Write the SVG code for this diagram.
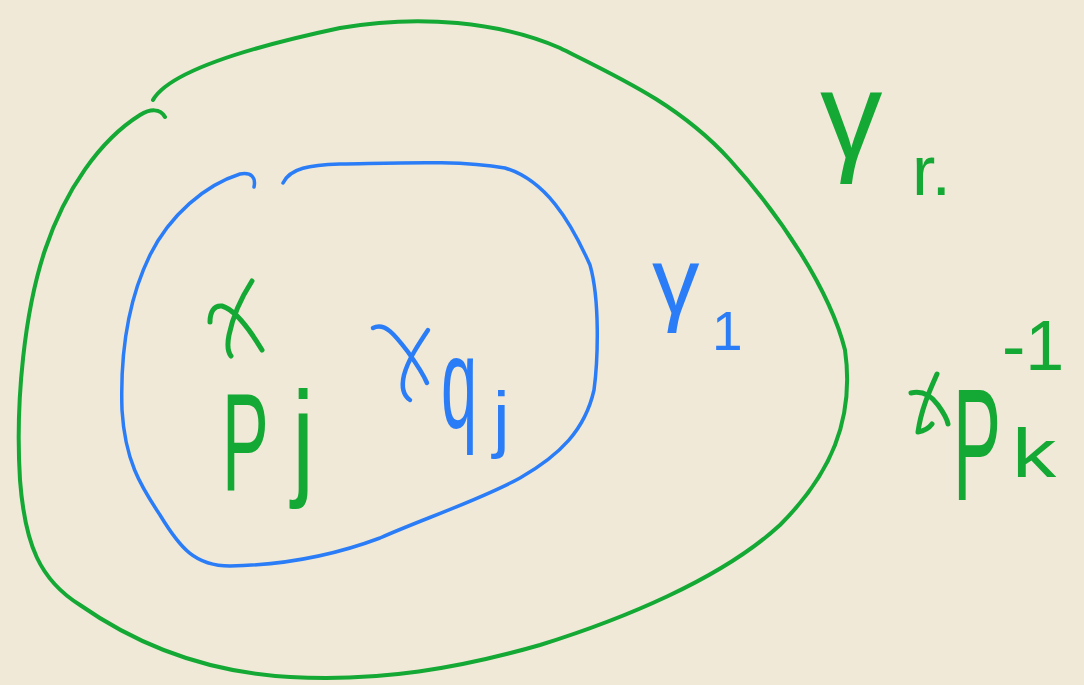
<svg xmlns="http://www.w3.org/2000/svg" width="1084" height="685" viewBox="0 0 1084 685">
<style>
.g{fill:none;stroke:#14a834;stroke-linecap:round;stroke-linejoin:round}
.b{fill:none;stroke:#2a7df7;stroke-linecap:round;stroke-linejoin:round}
.tg{fill:#14a834;font-family:"Liberation Sans",sans-serif}
.tb{fill:#2a7df7;font-family:"Liberation Sans",sans-serif}
</style>
<rect width="1084" height="685" fill="#f0e9d7"/>
<g id="connectors">
<path id="gamma-r" class="g" stroke-width="4" d="M153,100 C170,70 260,45 340,28 C420,14 500,22 560,48 C620,78 680,105 730,160 C780,215 830,290 845,350 C855,420 830,475 780,525 C720,580 620,620 540,645 C460,668 380,682 290,677 C200,672 130,640 80,605 C40,580 25,545 20,480 C15,400 25,310 45,250 C65,190 100,140 140,115 C150,109 160,108 165,117"/>
<path id="gamma-1" class="b" stroke-width="3.5" d="M283,183 C290,168 310,165 340,164 C400,163 460,160 505,168 C545,180 570,220 590,265 C600,300 598,360 594,390 C585,430 560,455 520,478 C480,500 420,520 380,538 C340,553 290,565 230,566 C195,566 180,548 160,515 C140,485 125,460 122,410 C120,350 128,300 150,255 C170,215 205,185 240,174 C252,172 256,178 254,187"/>
</g>
<g id="pt-pj">
<path class="g" stroke-width="5" d="M210,322 C210,312 214,305 222,306 C236,310 250,330 262,350 M252,281 C243,295 233,315 229,335 C227,345 228,352 231,356"/>
<text class="tg" transform="translate(222,490) scale(0.5,1)" font-size="140">P</text>
<text class="tg" transform="translate(292,482) scale(1,1.3)" font-size="100">j</text>
</g>
<g id="pt-qj">
<path class="b" stroke-width="4.5" d="M373,328 C385,322 395,335 408,352 C418,366 424,376 427,383 M428,330 C418,345 408,360 404,375 C401,388 404,396 410,400"/>
<text class="tb" transform="translate(441,428) scale(0.5,1)" font-size="130">q</text>
<text class="tb" x="493" y="444" font-size="75">j</text>
</g>
<g id="pt-pk">
<path class="g" stroke-width="5" d="M911,393 C920,391 930,394 938,405 C943,412 947,418 948,424 M937,374 C929,392 921,410 918,432 C924,431 929,428 932,424"/>
<text class="tg" transform="translate(953,500) scale(0.45,1)" font-size="160">P</text>
<text class="tg" transform="translate(1012,477) scale(1.3,1)" font-size="68">k</text>
<text class="tg" x="1002" y="370" font-size="70">-1</text>
</g>
<g id="label-gr">
<text class="tg" x="820" y="158" font-size="125">γ</text>
<text class="tg" x="912" y="195" font-size="70">r.</text>
</g>
<g id="label-g1">
<text class="tb" x="652" y="313" font-size="95">γ</text>
<text class="tb" x="712" y="350" font-size="55">1</text>
</g>
</svg>
